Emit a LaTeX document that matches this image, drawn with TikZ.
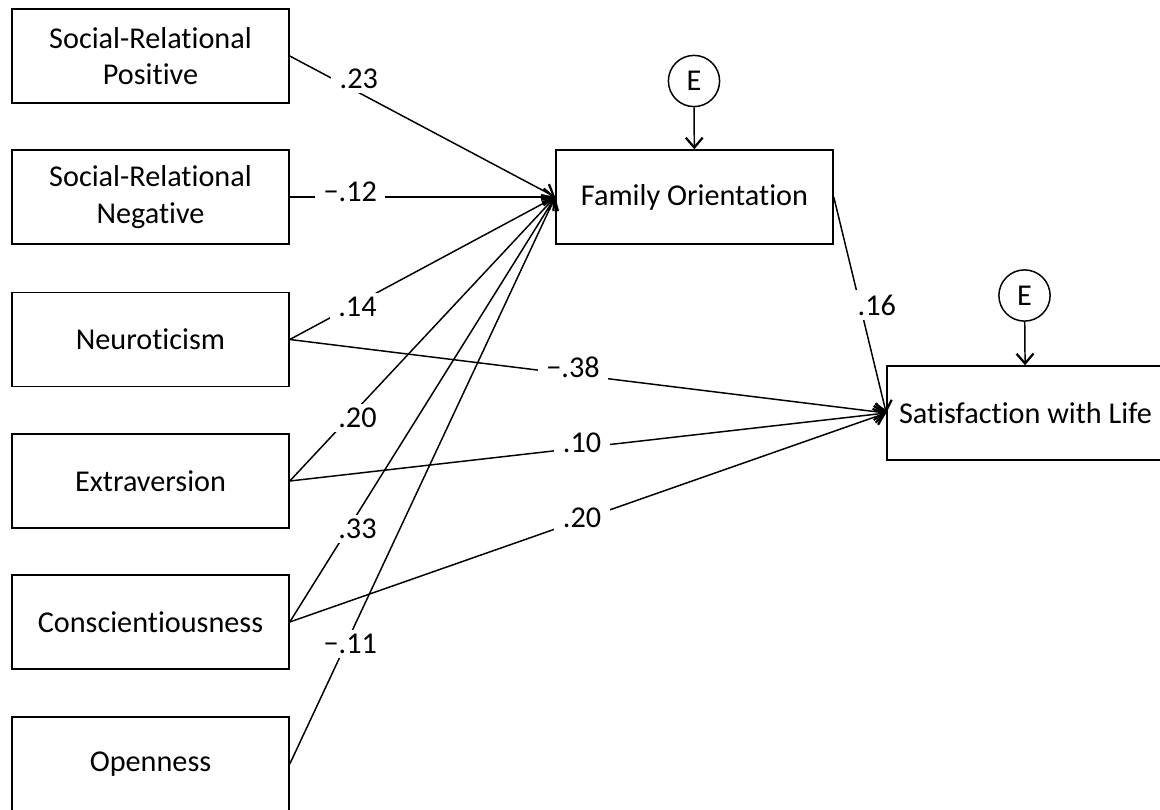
\documentclass[tikz,border=0pt]{standalone}
\usepackage{fontspec}
\setmainfont{Carlito}[Ligatures={TeX,NoCommon}]
\usetikzlibrary{arrows.meta, positioning, calc}
\tikzset{every picture/.append style={line width=1.05pt}}

\begin{document}
\begin{tikzpicture}[x=0.025cm, y=-0.025cm,
    varbox/.style={draw, rectangle, minimum width=6.925cm, minimum height=2.35cm, align=center, inner sep=0pt, font=\fontsize{21.5}{26}\selectfont},
    errnode/.style={draw, circle, minimum size=1.28cm, inner sep=0pt, font=\fontsize{21.5}{26}\selectfont},
    effect/.style={-{Straight Barb[length=7pt, width=12pt, line width=1.6pt]}},
    coef/.style={fill=white, inner xsep=6pt, inner ysep=3pt, font=\fontsize{21.5}{26}\selectfont}]

    % Bounding box (same size as the reference)
    \useasboundingbox (0,0) rectangle (1160,810);

    % Predictor boxes (left column)
    \node[varbox] (srp) at (150.5,56) {Social-Relational\\Positive};
    \node[varbox] (srn) at (150.5,197) {Social-Relational\\Negative};
    \node[varbox] (neu) at (150.5,339.5) {Neuroticism};
    \node[varbox] (ext) at (150.5,481) {Extraversion};
    \node[varbox] (con) at (150.5,622) {Conscientiousness};
    \node[varbox] (ope) at (150.5,764) {Openness};

    % Mediator and outcome
    \node[varbox] (fam) at (694.5,197) {Family Orientation};
    \node[varbox] (swl) at (1025.5,413) {Satisfaction with Life};

    % Error terms
    \node[errnode] (efam) at (694,81) {E};
    \node[errnode] (eswl) at (1024.5,295.5) {E};
    \draw[effect] (efam) -- (fam);
    \draw[effect] (eswl) -- (swl);

    % Paths to Family Orientation
    \draw[effect] (srp.east) -- node[coef, pos=0.26, yshift=10pt] {.23} (fam.west);
    \draw[effect] (srn.east) -- node[coef, pos=0.228, yshift=3.5pt] {−.12} (fam.west);
    \draw[effect] (neu.east) -- node[coef, pos=0.255, yshift=-3pt] {.14} (fam.west);
    \draw[effect] (ext.east) -- node[coef, pos=0.255, yshift=-6.5pt] {.20} (fam.west);
    \draw[effect] (con.east) -- node[coef, pos=0.255, yshift=-11pt] {.33} (fam.west);
    \draw[effect] (ope.east) -- node[coef, pos=0.228, yshift=-6.4pt] {−.11} (fam.west);

    % Paths to Satisfaction with Life
    \draw[effect] (neu.east) -- node[coef, pos=0.475, yshift=5pt] {−.38} (swl.west);
    \draw[effect] (ext.east) -- node[coef, pos=0.49, yshift=3.5pt] {.10} (swl.west);
    \draw[effect] (con.east) -- node[coef, pos=0.49, yshift=1.5pt] {.20} (swl.west);
    \draw[effect] (fam.east) -- node[coef, pos=0.5, xshift=12pt] {.16} (swl.west);

\end{tikzpicture}
\end{document}
